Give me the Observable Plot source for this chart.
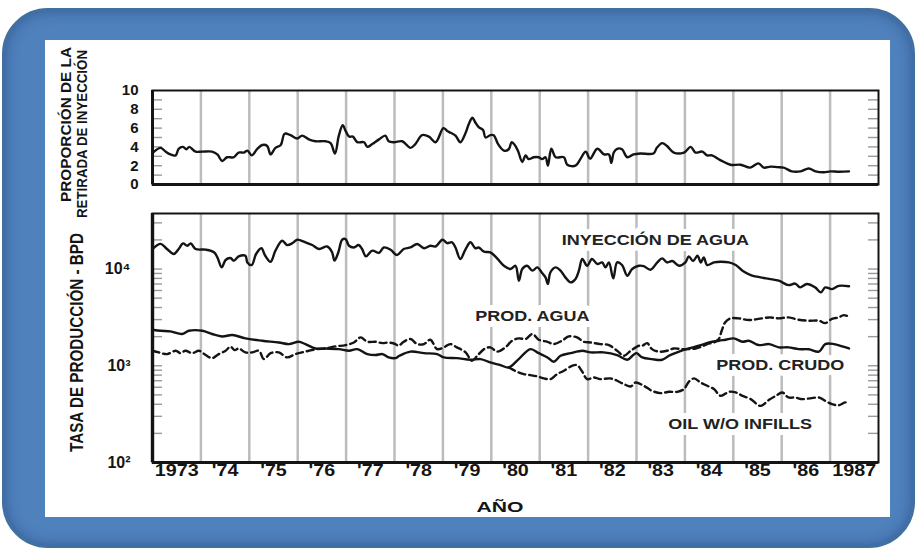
<!DOCTYPE html>
<html><head><meta charset="utf-8">
<script src="https://cdn.jsdelivr.net/npm/d3@7"></script>
<script src="https://cdn.jsdelivr.net/npm/@observablehq/plot@0.6"></script>
<style>
html,body{margin:0;padding:0;background:#fff;}
#root{position:relative;width:917px;height:550px;overflow:hidden;font-family:"Liberation Sans",Arial,sans-serif;}
#frame{position:absolute;left:2px;top:8px;width:909px;height:536px;background:#4f81bd;border:2px solid #41709f;border-radius:46px;box-shadow:inset 0 0 14px rgba(25,55,100,.55);}
#panel{position:absolute;left:45px;top:40px;width:845px;height:477px;background:#fff;}
.layer{position:absolute;left:0;}
</style></head><body><div id="root"><div id="frame"></div><div id="panel"></div>
<div id="topChart" class="layer" style="top:0"></div>
<div id="botChart" class="layer" style="top:195px"></div>
<svg id="titles" class="layer" style="top:0" width="917" height="550"></svg>
</div>
<script>
// ---------- data ----------
const gridYears = [1974,1975,1976,1977,1978,1979,1980,1981,1982,1983,1984,1985,1986,1987];
const xTickYears = [1973,1974,1975,1976,1977,1978,1979,1980,1981,1982,1983,1984,1985,1986,1987];
const xTickLabels = ["1973","'74","'75","'76","'77","'78","'79","'80","'81","'82","'83","'84","'85","'86","1987"];
const ratioTicks = [1,2,3,4,5,6,7,8,9];
const ratioLabels = [0,2,4,6,8,10];
const bpdTicks = [200,300,400,500,600,700,800,900,1000,2000,3000,4000,5000,6000,7000,8000,9000,10000,20000,30000];
const bpdLabels = [{v:100,t:"10²"},{v:1000,t:"10³"},{v:10000,t:"10⁴"}];
const seriesLabels = [
  {name:"INYECCIÓN DE AGUA", year:1983.39, bpd:19950},
  {name:"PROD. AGUA", year:1980.85, bpd:3290},
  {name:"PROD. CRUDO", year:1985.97, bpd:1023},
  {name:"OIL W/O INFILLS", year:1985.14, bpd:246}
];

// proporción de la retirada de inyección
const ratio = [[1973.01,3.4],[1973.17,3.9],[1973.27,3.5],[1973.37,3.2],[1973.48,3.1],[1973.54,3.8],[1973.63,4.0],[1973.70,3.75],[1973.76,4.0],[1973.89,3.5],[1974.03,3.5],[1974.23,3.5],[1974.34,3.2],[1974.44,2.5],[1974.54,2.9],[1974.68,2.9],[1974.78,3.4],[1974.89,3.4],[1974.96,3.6],[1975.05,3.1],[1975.16,3.75],[1975.27,4.2],[1975.37,4.1],[1975.44,3.2],[1975.54,3.9],[1975.65,4.2],[1975.73,5.4],[1975.85,5.25],[1975.99,4.9],[1976.09,5.2],[1976.23,4.8],[1976.37,4.6],[1976.57,4.6],[1976.68,4.4],[1976.77,3.3],[1976.85,5.2],[1976.93,6.3],[1976.99,5.7],[1977.06,5.1],[1977.14,5.1],[1977.23,4.5],[1977.37,4.5],[1977.44,4.0],[1977.54,4.3],[1977.68,4.8],[1977.81,5.2],[1977.88,4.6],[1977.99,4.5],[1978.16,4.6],[1978.33,3.9],[1978.43,4.3],[1978.57,5.25],[1978.71,5.1],[1978.85,4.5],[1979.01,6.0],[1979.09,5.7],[1979.16,5.5],[1979.26,5.2],[1979.36,4.5],[1979.47,5.5],[1979.54,6.5],[1979.61,7.1],[1979.67,6.6],[1979.74,6.1],[1979.83,5.8],[1979.88,5.0],[1979.98,5.25],[1980.05,5.25],[1980.14,4.3],[1980.26,3.6],[1980.36,3.75],[1980.42,4.5],[1980.47,4.3],[1980.55,3.6],[1980.64,2.4],[1980.71,3.1],[1980.77,2.7],[1980.88,2.9],[1980.98,2.9],[1981.05,2.7],[1981.12,2.9],[1981.17,2.0],[1981.24,3.8],[1981.33,2.9],[1981.50,2.9],[1981.57,2.1],[1981.74,2.0],[1981.84,2.7],[1981.95,3.5],[1982.04,2.75],[1982.19,3.8],[1982.33,3.2],[1982.43,3.2],[1982.48,2.3],[1982.53,3.4],[1982.60,3.8],[1982.70,3.75],[1982.81,2.9],[1982.94,3.2],[1983.08,3.3],[1983.35,3.3],[1983.42,3.9],[1983.53,4.4],[1983.63,4.1],[1983.77,3.4],[1983.98,3.4],[1984.12,4.0],[1984.22,3.4],[1984.36,3.5],[1984.46,3.1],[1984.56,3.1],[1984.73,2.6],[1984.94,2.1],[1985.15,2.1],[1985.35,1.8],[1985.52,2.25],[1985.63,1.8],[1985.77,1.9],[1985.91,1.85],[1986.04,1.8],[1986.21,1.4],[1986.39,1.4],[1986.56,1.7],[1986.70,1.4],[1986.87,1.3],[1987.01,1.4],[1987.18,1.35],[1987.39,1.4]];

// inyección de agua (BPD)
const injection = [[1973.0,16100],[1973.17,18200],[1973.30,16100],[1973.44,14300],[1973.54,16100],[1973.63,18400],[1973.72,17400],[1973.79,18400],[1973.89,16100],[1974.10,15850],[1974.27,14900],[1974.34,13200],[1974.43,10400],[1974.51,12400],[1974.61,13000],[1974.68,12200],[1974.78,13500],[1974.92,13700],[1974.96,11700],[1975.05,11000],[1975.14,14300],[1975.25,16400],[1975.33,13700],[1975.44,11900],[1975.54,15500],[1975.68,19600],[1975.78,17700],[1975.89,18500],[1975.99,20100],[1976.16,18900],[1976.30,17700],[1976.44,16100],[1976.61,17100],[1976.71,14900],[1976.76,12200],[1976.84,14900],[1976.92,20100],[1976.99,20400],[1977.06,17400],[1977.16,16700],[1977.26,17700],[1977.33,16100],[1977.41,13500],[1977.54,15500],[1977.68,14700],[1977.78,16700],[1977.92,15800],[1978.05,13970],[1978.19,16100],[1978.33,16700],[1978.47,18150],[1978.61,16400],[1978.74,17400],[1978.85,17100],[1978.99,20100],[1979.09,18500],[1979.19,18900],[1979.26,16700],[1979.36,12700],[1979.47,16100],[1979.57,18900],[1979.67,16400],[1979.74,16700],[1979.85,15100],[1979.98,14900],[1980.12,12900],[1980.26,10800],[1980.40,10000],[1980.50,10800],[1980.57,7570],[1980.64,10000],[1980.74,10800],[1980.85,9620],[1980.95,10400],[1981.05,9100],[1981.12,8200],[1981.17,7000],[1981.22,9200],[1981.33,10400],[1981.43,9620],[1981.53,8200],[1981.64,7280],[1981.74,7900],[1981.81,9620],[1981.88,12700],[1981.98,10800],[1982.08,12700],[1982.19,11270],[1982.29,11700],[1982.36,10400],[1982.43,11700],[1982.52,8000],[1982.60,11700],[1982.70,11000],[1982.81,8530],[1982.91,10000],[1983.05,10800],[1983.15,10700],[1983.29,9840],[1983.43,11700],[1983.53,12900],[1983.63,11700],[1983.74,12100],[1983.88,10800],[1984.01,11700],[1984.08,13500],[1984.17,12100],[1984.26,13700],[1984.33,11700],[1984.39,13200],[1984.46,11000],[1984.60,11700],[1984.74,11900],[1984.91,11700],[1985.05,11000],[1985.19,9620],[1985.36,8670],[1985.56,8200],[1985.74,7900],[1985.94,7570],[1986.14,6820],[1986.28,7070],[1986.38,6460],[1986.52,7000],[1986.69,6460],[1986.81,5740],[1986.90,6460],[1987.04,6200],[1987.18,6700],[1987.39,6640]];

// producción de agua (BPD)
const waterProd = [[1973.0,1430],[1973.13,1374],[1973.30,1320],[1973.48,1430],[1973.58,1350],[1973.68,1430],[1973.82,1350],[1973.96,1430],[1974.10,1290],[1974.23,1200],[1974.37,1320],[1974.51,1430],[1974.61,1575],[1974.70,1450],[1974.78,1510],[1974.92,1374],[1975.06,1374],[1975.20,1430],[1975.30,1172],[1975.44,1350],[1975.61,1374],[1975.78,1220],[1975.95,1320],[1976.09,1374],[1976.23,1430],[1976.40,1486],[1976.57,1510],[1976.78,1585],[1976.99,1637],[1977.16,1740],[1977.30,1965],[1977.44,1770],[1977.61,1770],[1977.75,1714],[1977.88,1740],[1978.02,1675],[1978.08,1610],[1978.19,1770],[1978.33,1890],[1978.47,1675],[1978.61,1675],[1978.74,1860],[1978.88,1486],[1979.02,1550],[1979.15,1675],[1979.29,1550],[1979.47,1374],[1979.60,1127],[1979.71,1268],[1979.85,1486],[1979.98,1550],[1980.12,1400],[1980.29,1550],[1980.43,1815],[1980.57,1920],[1980.71,1890],[1980.85,2130],[1980.98,1860],[1981.16,1770],[1981.29,1675],[1981.46,1815],[1981.60,2010],[1981.77,1965],[1981.91,1770],[1982.05,1740],[1982.25,1675],[1982.43,1637],[1982.60,1430],[1982.74,1268],[1982.88,1430],[1983.05,1610],[1983.12,1610],[1983.22,1714],[1983.32,1486],[1983.46,1400],[1983.63,1430],[1983.77,1510],[1983.94,1486],[1984.08,1486],[1984.22,1510],[1984.36,1585],[1984.46,1675],[1984.60,1740],[1984.70,1890],[1984.76,2300],[1984.83,2800],[1984.94,3090],[1985.11,3090],[1985.32,2970],[1985.52,3050],[1985.74,3160],[1985.94,3090],[1986.14,3160],[1986.35,2990],[1986.56,2920],[1986.77,2920],[1986.90,2760],[1987.04,3050],[1987.18,3160],[1987.28,3340],[1987.42,3160]];

// producción de crudo (BPD)
const oilProd = [[1973.0,2360],[1973.17,2300],[1973.37,2270],[1973.61,2130],[1973.75,2300],[1974.03,2300],[1974.23,2130],[1974.44,2010],[1974.65,2080],[1974.92,1920],[1975.27,1815],[1975.61,1740],[1975.82,1675],[1976.02,1770],[1976.16,1675],[1976.37,1510],[1976.57,1510],[1976.85,1486],[1977.06,1430],[1977.23,1486],[1977.44,1320],[1977.61,1290],[1977.75,1320],[1977.88,1220],[1978.02,1200],[1978.10,1268],[1978.33,1400],[1978.61,1350],[1978.88,1320],[1979.02,1220],[1979.29,1200],[1979.57,1153],[1979.78,1172],[1979.98,1082],[1980.19,1016],[1980.36,961],[1980.55,1150],[1980.81,1486],[1980.98,1350],[1981.16,1220],[1981.29,1100],[1981.43,1268],[1981.64,1350],[1981.88,1430],[1982.05,1374],[1982.32,1374],[1982.60,1290],[1982.81,1153],[1982.94,1300],[1983.0,1350],[1983.12,1220],[1983.32,1172],[1983.53,1153],[1983.67,1268],[1983.88,1400],[1984.08,1510],[1984.29,1610],[1984.50,1740],[1984.70,1815],[1984.84,1860],[1985.01,1920],[1985.19,1770],[1985.32,1815],[1985.52,1637],[1985.74,1675],[1985.94,1550],[1986.14,1550],[1986.35,1486],[1986.56,1480],[1986.77,1400],[1986.90,1675],[1987.08,1675],[1987.25,1585],[1987.39,1510]];

// crudo sin pozos de relleno (BPD)
const oilNoInfills = [[1980.36,961],[1980.40,938],[1980.53,867],[1980.67,820],[1980.81,800],[1980.95,776],[1981.09,740],[1981.22,728],[1981.36,820],[1981.50,888],[1981.67,1000],[1981.77,1016],[1981.88,867],[1981.98,728],[1982.12,757],[1982.25,728],[1982.46,740],[1982.60,700],[1982.74,646],[1982.88,611],[1982.98,672],[1983.15,621],[1983.32,551],[1983.50,521],[1983.67,538],[1983.84,538],[1983.98,574],[1984.08,683],[1984.19,740],[1984.32,672],[1984.46,621],[1984.60,574],[1984.74,489],[1984.91,538],[1985.05,530],[1985.19,489],[1985.36,452],[1985.56,385],[1985.74,445],[1985.88,489],[1986.01,530],[1986.14,470],[1986.28,470],[1986.42,452],[1986.59,460],[1986.77,470],[1986.90,434],[1987.04,401],[1987.18,391],[1987.32,418],[1987.39,401]];

// ---------- layout ----------
const W = 917, ML = 152, MR = 39;
const plotW = W - ML - MR;
const FONT = '"Liberation Sans", Arial, Helvetica, sans-serif';
const INK = "#141414";
const GRID = "#bcbcbc";
const TICK = "#9a9a9a";
const X = d => d[0], Y = d => d[1];
const CURVE = "catmull-rom";

const topPlot = Plot.plot({
  width: W, height: 200, marginLeft: ML, marginRight: MR, marginTop: 90, marginBottom: 16,
  style: {background: "transparent", fontFamily: FONT, overflow: "visible"},
  x: {domain: [1973, 1988], axis: null},
  y: {domain: [0, 10], axis: null},
  marks: [
    Plot.ruleX(gridYears, {stroke: GRID, strokeWidth: 2.5}),
    Plot.ruleY(ratioTicks, {insetRight: plotW - 10, stroke: TICK, strokeWidth: 1.4}),
    Plot.ruleY(ratioTicks, {insetLeft: plotW - 10, stroke: TICK, strokeWidth: 1.4}),
    Plot.line(ratio, {x: X, y: Y, stroke: INK, strokeWidth: 2.4, curve: CURVE}),
    Plot.frame({stroke: INK, strokeWidth: 2}),
    Plot.ruleX([1973], {stroke: INK, strokeWidth: 3}),
    Plot.ruleY([0], {stroke: INK, strokeWidth: 3}),
    Plot.text(ratioLabels, {y: d => d, text: d => String(d), frameAnchor: "left", dx: -14, textAnchor: "end",
      fontSize: 15, fontWeight: "bold", fill: INK})
  ]
});
document.getElementById("topChart").append(topPlot);

const botPlot = Plot.plot({
  width: W, height: 355, marginLeft: ML, marginRight: MR, marginTop: 18, marginBottom: 88,
  style: {background: "transparent", fontFamily: FONT, overflow: "visible"},
  x: {domain: [1973, 1988], axis: null},
  y: {type: "log", domain: [100, 37500], axis: null},
  marks: [
    Plot.ruleX(gridYears, {stroke: GRID, strokeWidth: 2.5}),
    Plot.ruleY(bpdTicks, {insetRight: plotW - 10, stroke: TICK, strokeWidth: 1.4}),
    Plot.ruleY(bpdTicks, {insetLeft: plotW - 10, stroke: TICK, strokeWidth: 1.4}),
    Plot.text(seriesLabels, {x: "year", y: "bpd", text: "name", fontSize: 15, fontWeight: "bold", fill: "#222",
      stroke: "white", strokeWidth: 12, ariaDescription: "serieslabels"}),
    Plot.line(injection, {x: X, y: Y, stroke: INK, strokeWidth: 2.4, curve: CURVE}),
    Plot.line(oilProd, {x: X, y: Y, stroke: INK, strokeWidth: 2.4, curve: CURVE}),
    Plot.line(waterProd, {x: X, y: Y, stroke: INK, strokeWidth: 2.4, strokeDasharray: "7,4", curve: CURVE}),
    Plot.line(oilNoInfills, {x: X, y: Y, stroke: INK, strokeWidth: 2.4, strokeDasharray: "7,4", curve: CURVE}),
    Plot.frame({stroke: INK, strokeWidth: 2}),
    Plot.ruleX([1973], {stroke: INK, strokeWidth: 3.4}),
    Plot.ruleY([100], {stroke: INK, strokeWidth: 3}),
    Plot.text(bpdLabels, {y: "v", text: "t", frameAnchor: "left", dx: -22, textAnchor: "end",
      fontSize: 16, fontWeight: "bold", fill: INK}),
    Plot.text(xTickYears, {x: d => d + 0.5, text: (d, i) => xTickLabels[i], frameAnchor: "bottom", dy: 13,
      fontSize: 17, fontWeight: "bold", fill: INK, ariaDescription: "xlabels"})
  ]
});
document.getElementById("botChart").append(botPlot);

function stretch(root, desc, f) {
  d3.select(root).selectAll(`g[aria-description="${desc}"] text`).each(function () {
    const w = this.getComputedTextLength();
    this.setAttribute("textLength", (w * f).toFixed(1));
    this.setAttribute("lengthAdjust", "spacingAndGlyphs");
  });
}
stretch(botPlot, "serieslabels", 1.2);
stretch(botPlot, "xlabels", 1.16);

// ---------- titles ----------
const svg = d3.select("#titles").style("font-family", FONT).style("pointer-events", "none");
function vtitle(text, x, y, size, len) {
  svg.append("text").attr("transform", `translate(${x},${y}) rotate(-90)`)
    .attr("text-anchor", "middle").attr("font-size", size).attr("font-weight", "bold").attr("fill", INK)
    .attr("textLength", len).attr("lengthAdjust", "spacingAndGlyphs").text(text);
}
vtitle("PROPORCIÓN DE LA", 70.5, 124.5, 14, 155);
vtitle("RETIRADA DE INYECCIÓN", 87, 134, 14, 168);
vtitle("TASA DE PRODUCCIÓN - BPD", 83, 342.5, 19, 219);
svg.append("text").attr("x", 500).attr("y", 512).attr("text-anchor", "middle").attr("font-size", 15)
  .attr("font-weight", "bold").attr("fill", INK).attr("textLength", 47).attr("lengthAdjust", "spacingAndGlyphs").text("AÑO");
</script></body></html>
